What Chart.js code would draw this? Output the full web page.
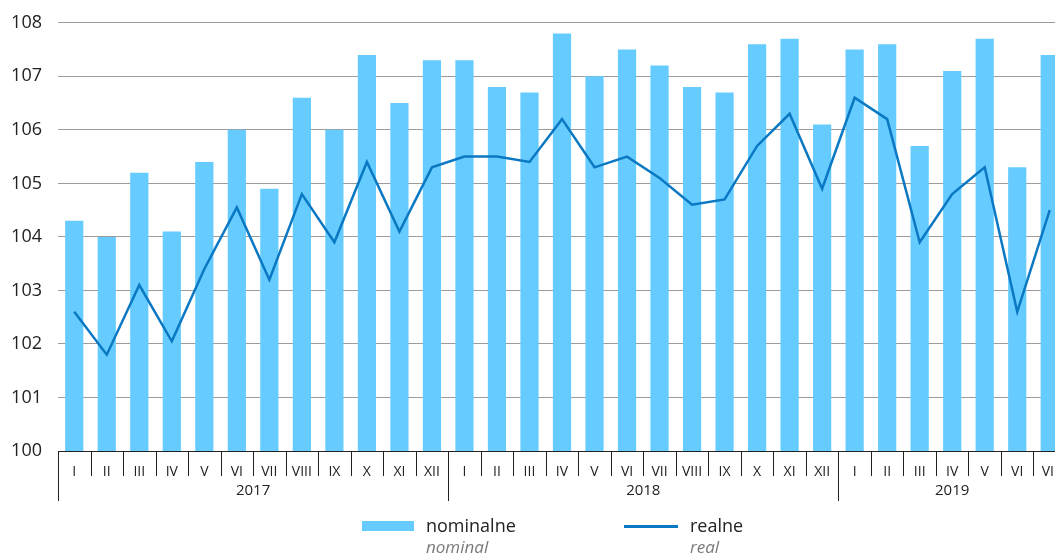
<!DOCTYPE html>
<html>
<head>
<meta charset="utf-8">
<script src="https://cdn.jsdelivr.net/npm/chart.js@4.4.1/dist/chart.umd.min.js"></script>
<style>
  html, body { margin: 0; padding: 0; background: #fff; overflow: hidden; }
  #wrap { position: relative; width: 1066px; height: 558px; overflow: hidden; }
  #chart { position: absolute; left: 0; top: -4px; }
  #legend { position: absolute; left: 0; top: 0; width: 1055px; height: 558px; pointer-events: none; font-family: 'Open Sans', sans-serif; }
  .lg-item { position: absolute; }
  .lg-main { font-size: 18px; color: #222; line-height: 22px; }
  .lg-sub { font-size: 17px; color: #7a7a7a; font-style: italic; line-height: 22px; }
</style>
</head>
<body>
<div id="wrap">
  <canvas id="chart" width="1066" height="562"></canvas>
  <div id="legend">
    <div class="lg-item" style="left:362px; top:521px; width:52px; height:10px; background:#66ccff;"></div>
    <div class="lg-item" style="left:426px; top:514px;"><div class="lg-main">nominalne</div><div class="lg-sub">nominal</div></div>
    <div class="lg-item" style="left:624px; top:525px; width:54px; height:2.5px; background:#0a78c2;"></div>
    <div class="lg-item" style="left:690px; top:514px;"><div class="lg-main">realne</div><div class="lg-sub">real</div></div>
  </div>
</div>
<script>
const months = ['I', 'II', 'III', 'IV', 'V', 'VI', 'VII', 'VIII', 'IX', 'X', 'XI', 'XII',
                'I', 'II', 'III', 'IV', 'V', 'VI', 'VII', 'VIII', 'IX', 'X', 'XI', 'XII',
                'I', 'II', 'III', 'IV', 'V', 'VI', 'VII'];
const years = ['2017', '2018', '2019'];
const yearLengths = [12, 12, 7];

const nominal = [104.3, 104.0, 105.2, 104.1, 105.4, 106.0, 104.9, 106.6, 106.0, 107.4, 106.5, 107.3,
                 107.3, 106.8, 106.7, 107.8, 107.0, 107.5, 107.2, 106.8, 106.7, 107.6, 107.7, 106.1,
                 107.5, 107.6, 105.7, 107.1, 107.7, 105.3, 107.4];
const real = [102.6, 101.8, 103.1, 102.05, 103.4, 104.55, 103.2, 104.8, 103.9, 105.4, 104.1, 105.3,
              105.5, 105.5, 105.4, 106.2, 105.3, 105.5, 105.1, 104.6, 104.7, 105.7, 106.3, 104.9,
              106.6, 106.2, 103.9, 104.8, 105.3, 102.6, 104.5];

const yMin = 100;
const yMax = 108;

const FONT = "'Open Sans', sans-serif";

// category separators and year labels below the axis
const axisPlugin = {
    id: 'axisPlugin',
    afterDraw(chart) {
        const ctx = chart.ctx;
        const x = chart.scales.x;
        const bottom = chart.chartArea.bottom;
        const step = x.getPixelForValue(1) - x.getPixelForValue(0);
        ctx.save();
        ctx.strokeStyle = '#222';
        ctx.lineWidth = 1;
        // short month separators
        for (let i = 0; i <= months.length; i++) {
            const px = Math.round(x.getPixelForValue(i) - step / 2) + 0.5;
            ctx.beginPath();
            ctx.moveTo(px, bottom);
            ctx.lineTo(px, bottom + 25);
            ctx.stroke();
        }
        // year separators and labels
        let start = 0;
        ctx.fillStyle = '#222';
        ctx.font = '15px ' + FONT;
        ctx.textAlign = 'center';
        ctx.textBaseline = 'middle';
        years.forEach((yr, k) => {
            const x0 = x.getPixelForValue(start) - step / 2;
            const x1 = x.getPixelForValue(start + yearLengths[k] - 1) + step / 2;
            const px = Math.round(x0) + 0.5;
            ctx.beginPath();
            ctx.moveTo(px, bottom);
            ctx.lineTo(px, bottom + 50);
            ctx.stroke();
            ctx.fillText(yr, (x0 + x1) / 2, bottom + 40);
            start += yearLengths[k];
        });
        ctx.restore();
    }
};

new Chart(document.getElementById('chart'), {
    data: {
        labels: months,
        datasets: [
            {
                type: 'line',
                label: 'realne',
                data: real,
                borderColor: '#0a78c2',
                borderWidth: 2.5,
                pointRadius: 0,
                tension: 0,
                fill: false,
                order: 0
            },
            {
                type: 'bar',
                label: 'nominalne',
                data: nominal,
                backgroundColor: '#66ccff',
                barPercentage: 0.56,
                categoryPercentage: 1.0,
                order: 1
            }
        ]
    },
    options: {
        responsive: false,
        animation: false,
        layout: { padding: { top: 12, right: 0, bottom: 0, left: 0 } },
        plugins: {
            legend: { display: false },
            tooltip: { enabled: false }
        },
        scales: {
            x: {
                offset: true,
                grid: { display: false },
                border: { display: false },
                ticks: {
                    color: '#222',
                    font: { family: FONT, size: 14 },
                    padding: 5,
                    maxRotation: 0,
                    autoSkip: false
                },
                afterFit(scale) { scale.height = 107; }
            },
            y: {
                min: yMin,
                max: yMax,
                grid: {
                    drawTicks: false,
                    lineWidth: 1,
                    color: (c) => c.tick.value === yMin ? '#222' : '#9c9c9c'
                },
                border: { display: false },
                ticks: {
                    stepSize: 1,
                    color: '#222',
                    font: { family: FONT, size: 18 },
                    padding: 16
                },
                afterFit(scale) { scale.width = 58; }
            }
        }
    },
    plugins: [axisPlugin]
});
</script>
</body>
</html>
